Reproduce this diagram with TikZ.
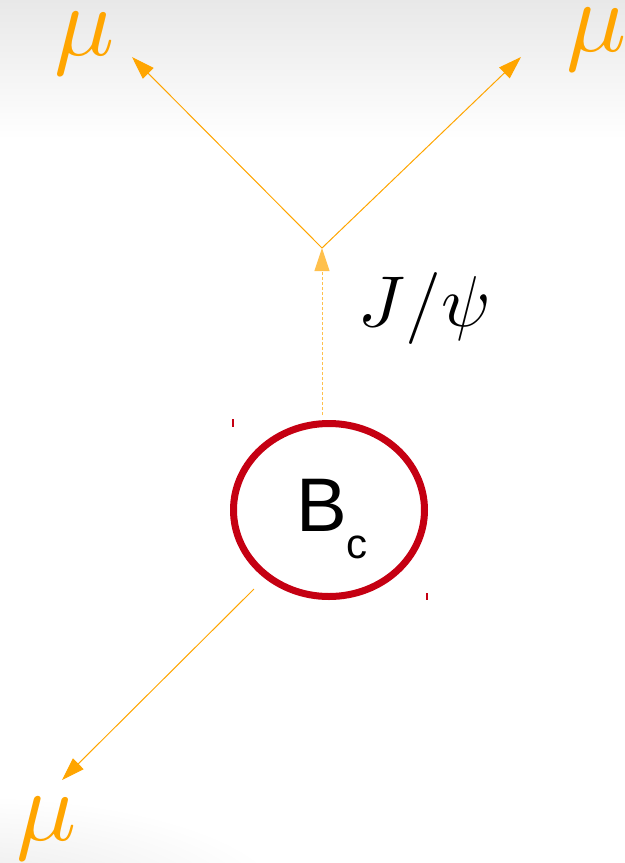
\documentclass[tikz,border=0pt]{standalone}
\usepackage{fontspec}
\newfontfamily\bcfont{Liberation Sans}
\usetikzlibrary{arrows.meta, shapes.geometric}
\definecolor{muorange}{HTML}{FFA500}
\definecolor{bcred}{HTML}{C50012}
\newcommand{\bigmath}[2]{\scalebox{#1}{$#2$}}

\begin{document}
\begin{tikzpicture}[x=0.5pt, y=-0.5pt,
    muarrow/.style={muorange, line width=0.5pt, -{Triangle[length=11.5pt, width=7.5pt]}},
    mulabel/.style={muorange, inner sep=0pt},
    bcring/.style={ellipse, draw=bcred, line width=3.5pt, inner sep=0pt,
        minimum width=95.5pt, minimum height=86.5pt}]
    % Canvas and background shading
    \useasboundingbox (0,0) rectangle (625,863);
    \shade[top color=black!9, bottom color=white] (0,0) rectangle (625,140);
    \begin{scope}
        \clip (0,0) rectangle (625,863);
        \shade[inner color=black!9, outer color=white] (-40,905) ellipse (330 and 110);
    \end{scope}
    % Muons
    \node[mulabel] (muL) at (85,44) {\bigmath{5}{\mu}};
    \node[mulabel] (muR) at (597,40) {\bigmath{5}{\mu}};
    \node[mulabel] (muB) at (47,829) {\bigmath{5}{\mu}};
    % B_c meson
    \node[bcring] (bc) at (329,510) {};
    \node[inner sep=0pt, font=\bcfont\fontsize{38}{40}\selectfont] (bclabel) at (332,519)
        {B\raisebox{-13.5pt}{\fontsize{21}{22}\selectfont c}};
    \draw[bcred, line width=0.6pt] (233,419) -- (233,427);
    \draw[bcred, line width=0.6pt] (427,593) -- (427,600);
    % J/psi
    \node[inner sep=0pt] (jpsi) at (425,308) {\bigmath{3.6}{J/\psi}};
    % Decay vertices and ends
    \coordinate (vtx) at (322,248);
    \coordinate (jstart) at (322,415);
    \coordinate (tipL) at (132,57);
    \coordinate (tipR) at (521,57);
    \coordinate (bcout) at (254,589);
    \coordinate (tipB) at (62,780);
    % Decay lines
    \draw[muarrow, muorange!70, dash pattern=on 1.5pt off 1pt] (jstart) -- (vtx);
    \draw[muarrow] (vtx) -- (tipL);
    \draw[muarrow] (vtx) -- (tipR);
    \draw[muarrow] (bcout) -- (tipB);
\end{tikzpicture}
\end{document}
